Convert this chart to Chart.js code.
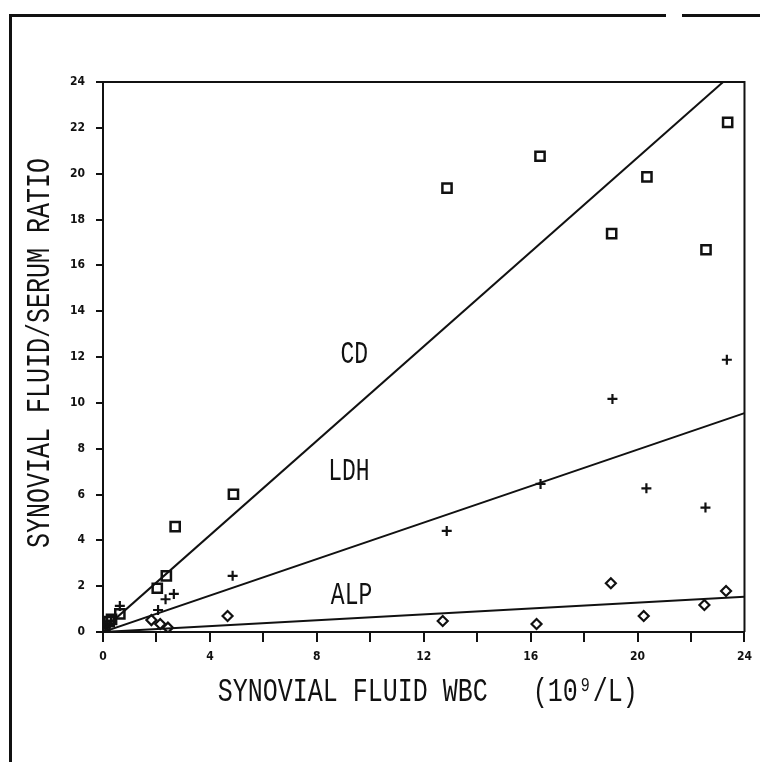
<!DOCTYPE html>
<html lang="en">
<head>
	<meta charset="UTF-8" />
	<title>Synovial fluid / serum ratio</title>
	<script src="https://cdn.jsdelivr.net/npm/chart.js@4"></script>
	<style>
		body { margin: 0; background: #fff; }
		#wrap { position: relative; width: 760px; height: 762px; }
		#frame {
			position: absolute; left: 9px; top: 14px; width: 760px; height: 760px;
			border-left: 3px solid #111; border-top: 3px solid #111; pointer-events: none;
		}
		#gap { position: absolute; left: 666px; top: 12px; width: 16px; height: 7px; background: #fff; }
	</style>
</head>
<body>
	<div id="wrap">
		<canvas id="chart" width="760" height="762"></canvas>
		<div id="frame"></div>
		<div id="gap"></div>
	</div>
	<script>
		// values (x = synovial fluid WBC, y = SF/serum ratio)
		const cdX = [0.07, 0.23, 0.32, 0.63, 2.03, 2.37, 2.7, 4.88, 12.87, 16.35, 19.03, 20.35, 22.56, 23.37];
		const cdY = [0.26, 0.45, 0.55, 0.79, 1.91, 2.45, 4.6, 6.01, 19.37, 20.76, 17.38, 19.86, 16.68, 22.24];

		const ldhX = [0.1, 0.3, 0.63, 2.06, 2.34, 2.65, 4.85, 12.86, 16.37, 19.06, 20.33, 22.54, 23.34];
		const ldhY = [0.2, 0.5, 1.14, 0.96, 1.43, 1.66, 2.45, 4.41, 6.46, 10.17, 6.27, 5.43, 11.88];

		const alpX = [0.0, 1.81, 2.14, 2.43, 4.66, 12.71, 16.22, 19.0, 20.23, 22.5, 23.31];
		const alpY = [0.12, 0.52, 0.35, 0.19, 0.70, 0.48, 0.35, 2.13, 0.70, 1.18, 1.79];

		// regression lines (end points)
		const cdFitX = [0, 23.2];
		const cdFitY = [0.1, 24];
		const ldhFitX = [0, 24];
		const ldhFitY = [0, 9.55];
		const alpFitX = [0, 24];
		const alpFitY = [0, 1.54];

		const seriesNames = ['CD', 'LDH', 'ALP'];
		const labelX = [9.4, 9.2, 9.3];
		const labelY = [12.1, 7.0, 1.6];

		const xTicks = [0, 4, 8, 12, 16, 20, 24];
		const xTitle = 'SYNOVIAL FLUID WBC   (10⁹/L)';
		const yTitle = 'SYNOVIAL FLUID/SERUM RATIO';

		const toPoints = (xs, ys) => xs.map((x, i) => ({ x: x, y: ys[i] }));

		const MONO = "'Liberation Mono', 'DejaVu Sans Mono', monospace";
		const TICKFONT = { family: "'Liberation Sans Narrow', 'DejaVu Sans Condensed', 'Liberation Sans', sans-serif", size: 12, weight: 'bold' };
		const STRETCH = 1.35; // the plotter font is tall and narrow

		function fitLine(xs, ys) {
			return {
				type: 'line',
				data: toPoints(xs, ys),
				borderColor: '#111',
				borderWidth: 2,
				pointRadius: 0,
				showLine: true,
				fill: false,
			};
		}

		function marks(xs, ys, style, radius, width) {
			return {
				data: toPoints(xs, ys),
				pointStyle: style,
				pointRadius: radius,
				pointBorderColor: '#111',
				pointBackgroundColor: 'rgba(0,0,0,0)',
				pointBorderWidth: width,
				showLine: false,
			};
		}

		function tallText(ctx, text, x, y, size, angle) {
			ctx.save();
			ctx.translate(x, y);
			ctx.rotate(angle);
			ctx.scale(1, STRETCH);
			ctx.font = `${size}px ${MONO}`;
			ctx.textAlign = 'center';
			ctx.textBaseline = 'middle';
			ctx.fillText(text, 0, 0);
			ctx.restore();
		}

		// box round the plot area, axis titles and series names
		const extras = {
			id: 'extras',
			afterDraw(chart) {
				const { ctx, chartArea: a, scales } = chart;
				ctx.save();
				ctx.strokeStyle = '#111';
				ctx.lineWidth = 2;
				ctx.beginPath();
				ctx.moveTo(a.left, a.top);
				ctx.lineTo(a.right, a.top);
				ctx.lineTo(a.right, a.bottom);
				ctx.stroke();
				ctx.fillStyle = '#111';

				const midX = (a.left + a.right) / 2;
				const midY = (a.top + a.bottom) / 2;
				tallText(ctx, xTitle, midX + 4, a.bottom + 60, 25, 0);
				tallText(ctx, yTitle, 40, midY - 4, 25, -Math.PI / 2);

				seriesNames.forEach((name, i) => {
					tallText(ctx, name, scales.x.getPixelForValue(labelX[i]), scales.y.getPixelForValue(labelY[i]), 23, 0);
				});
				ctx.restore();
			}
		};

		new Chart(document.getElementById('chart'), {
			type: 'scatter',
			data: {
				datasets: [
					fitLine(cdFitX, cdFitY),
					fitLine(ldhFitX, ldhFitY),
					fitLine(alpFitX, alpFitY),
					marks(cdX, cdY, 'rect', 6.5, 2.5),
					marks(ldhX, ldhY, 'cross', 5, 2.2),
					marks(alpX, alpY, 'rectRot', 5, 2.2),
				]
			},
			options: {
				responsive: false,
				animation: false,
				layout: { padding: { top: 82, right: 11, left: 0, bottom: 0 } },
				plugins: {
					legend: { display: false },
					tooltip: { enabled: false },
				},
				scales: {
					x: {
						type: 'linear',
						min: 0,
						max: 24,
						afterFit: s => { s.height = 130; },
						ticks: {
							stepSize: 2,
							color: '#111',
							font: TICKFONT,
							padding: 8,
							maxRotation: 0,
							callback: v => (xTicks.includes(v) ? v : ''),
						},
						grid: { drawOnChartArea: false, drawTicks: true, tickLength: 10, color: '#111', lineWidth: 2 },
						border: { display: true, color: '#111', width: 2 },
					},
					y: {
						type: 'linear',
						min: 0,
						max: 24,
						afterFit: s => { s.width = 103; },
						ticks: {
							stepSize: 2,
							color: '#111',
							font: TICKFONT,
							padding: 11,
						},
						grid: { drawOnChartArea: false, drawTicks: true, tickLength: 7, color: '#111', lineWidth: 2 },
						border: { display: true, color: '#111', width: 2 },
					},
				},
			},
			plugins: [extras],
		});
	</script>
</body>
</html>
